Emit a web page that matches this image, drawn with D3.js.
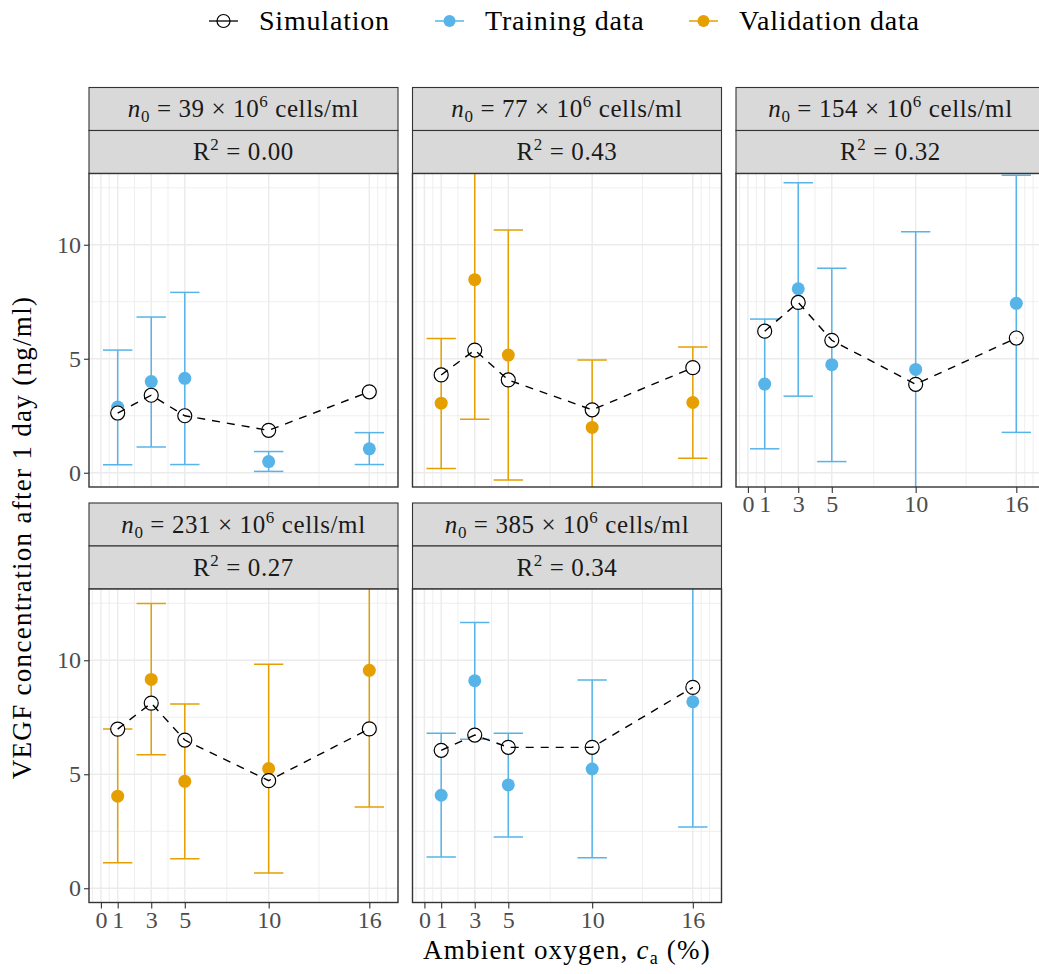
<!DOCTYPE html>
<html>
<head>
<meta charset="utf-8">
<script src="https://cdn.jsdelivr.net/npm/d3@7"></script>
<style>
  body { margin: 0; background: #fff; }
  text { font-family: 'Liberation Serif', 'DejaVu Serif', serif; }
</style>
</head>
<body>
<div id="chart"></div>
<script>
// data
const oxygenLevels = [1, 3, 5, 10, 16]
const cellDensities = [39, 77, 154, 231, 385]
const r2Values = ['0.00', '0.43', '0.32', '0.27', '0.34']
const panelSets = ['Training', 'Validation', 'Training', 'Validation', 'Training']

const simVegf = [
    [2.62, 3.40, 2.50, 1.86, 3.55],
    [4.29, 5.38, 4.07, 2.76, 4.61],
    [6.21, 7.47, 5.81, 3.88, 5.91],
    [6.98, 8.12, 6.50, 4.72, 6.99],
    [6.05, 6.72, 6.18, 6.18, 8.81]
]
const meanVegf = [
    [2.88, 4.00, 4.14, 0.49, 1.05],
    [3.05, 8.47, 5.16, 1.99, 3.08],
    [3.89, 8.07, 4.74, 4.53, 7.43],
    [4.04, 9.16, 4.69, 5.25, 9.56],
    [4.08, 9.10, 4.53, 5.23, 8.18]
]
const lowVegf = [
    [0.35, 1.13, 0.36, 0.06, 0.36],
    [0.19, 2.35, -0.32, -1.00, 0.64],
    [1.05, 3.36, 0.49, -1.50, 1.77],
    [1.12, 5.86, 1.29, 0.67, 3.56],
    [1.37, 6.54, 2.25, 1.34, 2.69]
]
const highVegf = [
    [5.38, 6.83, 7.91, 0.93, 1.76],
    [5.89, 14.00, 10.65, 4.94, 5.52],
    [6.74, 12.72, 8.97, 10.57, 13.05],
    [6.98, 12.49, 8.08, 9.83, 15.50],
    [6.80, 11.66, 6.80, 9.13, 14.50]
]

const xTicks = [0, 1, 3, 5, 10, 16]
const xMinor = [-0.5, 0.5, 2, 4, 7.5, 13, 16.5, 17]
const yTicks = [0, 5, 10]
const yMinor = [2.5, 7.5, 12.5]
const legendLabels = ['Simulation', 'Training data', 'Validation data']

const setColor = { Training: '#56B4E9', Validation: '#E69F00' }

const width = 1039
const height = 974
const panelW = 309
const panelH = 313.5
const stripH = 43
const colX = [89, 412.5, 736]
const rowStrip = [87.5, 503]
const capHalf = 0.875

const svg = d3.select('#chart').append('svg')
    .attr('width', width)
    .attr('height', height)
    .style('display', 'block')

const x = d3.scaleLinear().domain([-0.71, 17.71]).range([0, panelW])
const y = d3.scaleLinear().domain([-0.625, 13.125]).range([panelH, 0])

const defs = svg.append('defs')
defs.append('clipPath').attr('id', 'panel-clip')
    .append('rect').attr('width', panelW).attr('height', panelH)

const simLine = d3.line()
    .x(d => x(d.o))
    .y(d => y(d.v))

cellDensities.forEach((n0, i) => {
    const col = i % 3
    const row = Math.floor(i / 3)
    const px = colX[col]
    const stripTop = rowStrip[row]
    const plotTop = stripTop + 2 * stripH

    // strips
    const strip = svg.append('g').attr('transform', `translate(${px},${stripTop})`)
    strip.selectAll('rect').data([0, 1]).join('rect')
        .attr('x', 0).attr('y', d => d * stripH)
        .attr('width', panelW).attr('height', stripH)
        .attr('fill', '#D9D9D9').attr('stroke', '#333').attr('stroke-width', 1.1)

    const t1 = strip.append('text')
        .attr('x', panelW / 2).attr('y', stripH / 2 + 8)
        .attr('text-anchor', 'middle').attr('font-size', 25).attr('fill', '#1A1A1A')
        .attr('letter-spacing', 0.6)
    t1.append('tspan').attr('font-style', 'italic').text('n')
    t1.append('tspan').attr('font-size', 17).attr('dy', 5).text('0')
    t1.append('tspan').attr('dy', -5).text(` = ${n0} × 10`)
    t1.append('tspan').attr('font-size', 17).attr('dy', -10).text('6')
    t1.append('tspan').attr('dy', 10).text(' cells/ml')

    const t2 = strip.append('text')
        .attr('x', panelW / 2).attr('y', stripH + stripH / 2 + 8)
        .attr('text-anchor', 'middle').attr('font-size', 25).attr('fill', '#1A1A1A')
        .attr('letter-spacing', 0.6)
    t2.append('tspan').text('R')
    t2.append('tspan').attr('font-size', 17).attr('dy', -10).text('2')
    t2.append('tspan').attr('dy', 10).text(` = ${r2Values[i]}`)

    // plot panel
    const g = svg.append('g').attr('transform', `translate(${px},${plotTop})`)
    g.append('rect').attr('width', panelW).attr('height', panelH).attr('fill', '#fff')

    const grid = g.append('g').attr('clip-path', 'url(#panel-clip)')
    grid.selectAll('.xminor').data(xMinor).join('line')
        .attr('x1', d => x(d)).attr('x2', d => x(d))
        .attr('y1', 0).attr('y2', panelH)
        .attr('stroke', '#EBEBEB').attr('stroke-width', 0.8)
    grid.selectAll('.yminor').data(yMinor).join('line')
        .attr('x1', 0).attr('x2', panelW)
        .attr('y1', d => y(d)).attr('y2', d => y(d))
        .attr('stroke', '#EBEBEB').attr('stroke-width', 0.8)
    grid.selectAll('.xmajor').data(xTicks).join('line')
        .attr('x1', d => x(d)).attr('x2', d => x(d))
        .attr('y1', 0).attr('y2', panelH)
        .attr('stroke', '#EBEBEB').attr('stroke-width', 1.4)
    grid.selectAll('.ymajor').data(yTicks).join('line')
        .attr('x1', 0).attr('x2', panelW)
        .attr('y1', d => y(d)).attr('y2', d => y(d))
        .attr('stroke', '#EBEBEB').attr('stroke-width', 1.4)

    const color = setColor[panelSets[i]]
    const pts = oxygenLevels.map((o, j) => ({
        o, sim: simVegf[i][j], mean: meanVegf[i][j], lo: lowVegf[i][j], hi: highVegf[i][j]
    }))

    const marks = g.append('g').attr('clip-path', 'url(#panel-clip)')

    // error bars
    const eb = marks.selectAll('.errorbar').data(pts).join('g').attr('class', 'errorbar')
        .attr('stroke', color).attr('stroke-width', 1.5).attr('fill', 'none')
    eb.append('line')
        .attr('x1', d => x(d.o)).attr('x2', d => x(d.o))
        .attr('y1', d => y(d.lo)).attr('y2', d => y(d.hi))
    eb.append('line')
        .attr('x1', d => x(d.o - capHalf)).attr('x2', d => x(d.o + capHalf))
        .attr('y1', d => y(d.lo)).attr('y2', d => y(d.lo))
    eb.append('line')
        .attr('x1', d => x(d.o - capHalf)).attr('x2', d => x(d.o + capHalf))
        .attr('y1', d => y(d.hi)).attr('y2', d => y(d.hi))

    // measured points
    marks.selectAll('.meas').data(pts).join('circle').attr('class', 'meas')
        .attr('cx', d => x(d.o)).attr('cy', d => y(d.mean))
        .attr('r', 6.5).attr('fill', color)

    // simulation
    marks.selectAll('.sim').data(pts).join('circle').attr('class', 'sim')
        .attr('cx', d => x(d.o)).attr('cy', d => y(d.sim))
        .attr('r', 7).attr('fill', '#fff').attr('stroke', '#000').attr('stroke-width', 1.2)
    marks.append('path')
        .datum(pts.map(d => ({ o: d.o, v: d.sim })))
        .attr('d', simLine)
        .attr('fill', 'none').attr('stroke', '#000')
        .attr('stroke-width', 1.4).attr('stroke-dasharray', '8,7')

    g.append('rect').attr('width', panelW).attr('height', panelH)
        .attr('fill', 'none').attr('stroke', '#333').attr('stroke-width', 1.4)

    // axes
    if (col === 0) {
        const ya = g.append('g')
            .call(d3.axisLeft(y).tickValues(yTicks).tickSize(5).tickPadding(3))
        ya.select('.domain').remove()
        ya.selectAll('line').attr('stroke', '#333').attr('stroke-width', 1.1)
        ya.selectAll('text').attr('font-size', 24).attr('fill', '#4D4D4D')
            .attr('font-family', "'Liberation Serif', serif")
    }
    if (row === 1 || col === 2) {
        const xa = g.append('g').attr('transform', `translate(0,${panelH})`)
            .call(d3.axisBottom(x).tickValues(xTicks).tickSize(6).tickPadding(2))
        xa.select('.domain').remove()
        xa.selectAll('line').attr('stroke', '#333').attr('stroke-width', 1.1)
        xa.selectAll('text').attr('font-size', 24).attr('fill', '#4D4D4D')
            .attr('font-family', "'Liberation Serif', serif")
    }
})

// axis titles
svg.append('text')
    .attr('transform', `translate(31,${(173 + 902) / 2}) rotate(-90)`)
    .attr('text-anchor', 'middle').attr('font-size', 27).attr('fill', '#000')
    .attr('letter-spacing', 1.3)
    .text('VEGF concentration after 1 day (ng/ml)')

const xt = svg.append('text')
    .attr('x', (colX[0] + colX[2] + panelW) / 2).attr('y', 959)
    .attr('text-anchor', 'middle').attr('font-size', 27).attr('fill', '#000')
    .attr('letter-spacing', 1.2)
xt.append('tspan').text('Ambient oxygen, ')
xt.append('tspan').attr('font-style', 'italic').text('c')
xt.append('tspan').attr('font-size', 18).attr('dy', 5).text('a')
xt.append('tspan').attr('dy', -5).text(' (%)')

// legend
const legendY = 21
const legendKeys = [209, 435, 689]
const legend = svg.append('g')
legendLabels.forEach((lab, k) => {
    const lg = legend.append('g').attr('transform', `translate(${legendKeys[k]},${legendY})`)
    if (k === 0) {
        lg.append('line').attr('x1', 0).attr('x2', 29).attr('stroke', '#000').attr('stroke-width', 1.3)
        lg.append('circle').attr('cx', 14.5).attr('r', 6.5)
            .attr('fill', 'none').attr('stroke', '#000').attr('stroke-width', 1.2)
    } else {
        const c = k === 1 ? setColor.Training : setColor.Validation
        lg.append('line').attr('x1', 0).attr('x2', 29).attr('stroke', c).attr('stroke-width', 1.5)
        lg.append('circle').attr('cx', 14.5).attr('r', 6).attr('fill', c)
    }
    lg.append('text').attr('x', 50).attr('y', 9)
        .attr('font-size', 28).attr('fill', '#000').attr('letter-spacing', 0.8).text(lab)
})
</script>
</body>
</html>
